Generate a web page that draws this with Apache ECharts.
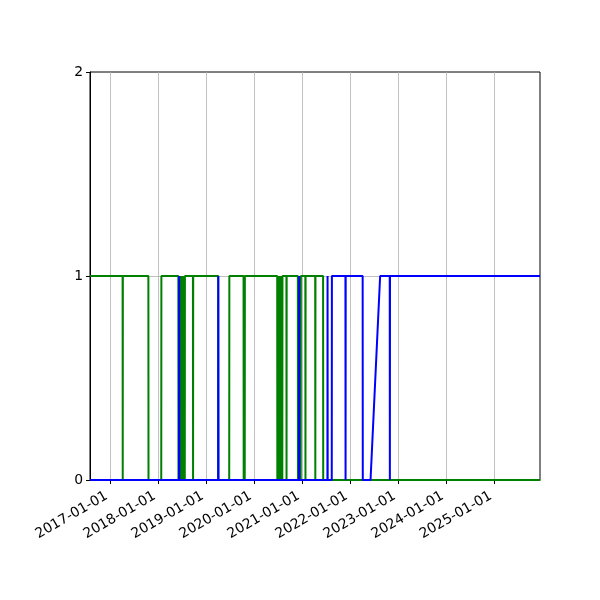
<!DOCTYPE html>
<html>
<head>
<meta charset="utf-8">
<script src="https://cdn.jsdelivr.net/npm/echarts@6/dist/echarts.min.js"></script>
<style>html,body{margin:0;padding:0;background:#fff}#c{width:600px;height:600px}</style>
</head>
<body>
<div id="c"></div>
<script>
// Axis range
var xMin = '2016-08-01';
var xMax = '2025-12-15';
var yTicks = [0, 1, 2];

// Green series: [date, value] points (state changes / short dips)
var greenSeries = [
  ['2016-08-01', 1],
  ['2017-04-06', 1], ['2017-04-07', 0], ['2017-04-08', 1],
  ['2017-10-19', 1], ['2017-10-20', 0],
  ['2018-01-25', 0], ['2018-01-26', 1],
  ['2018-06-04', 1], ['2018-06-05', 0], ['2018-06-06', 1],
  ['2018-06-10', 1], ['2018-06-11', 0], ['2018-06-12', 1],
  ['2018-06-16', 1], ['2018-06-17', 0], ['2018-06-18', 1],
  ['2018-06-22', 1], ['2018-06-23', 0], ['2018-06-24', 1],
  ['2018-06-28', 1], ['2018-06-29', 0], ['2018-06-30', 1],
  ['2018-07-04', 1], ['2018-07-05', 0], ['2018-07-06', 1],
  ['2018-07-10', 1], ['2018-07-11', 0], ['2018-07-12', 1],
  ['2018-07-16', 1], ['2018-07-17', 0], ['2018-07-18', 1],
  ['2018-07-22', 1], ['2018-07-23', 0], ['2018-07-24', 1],
  ['2018-09-23', 1], ['2018-09-24', 0], ['2018-09-25', 1],
  ['2019-04-03', 1], ['2019-04-04', 0],
  ['2019-06-26', 0], ['2019-06-27', 1],
  ['2019-10-13', 1], ['2019-10-14', 0], ['2019-10-15', 1],
  ['2019-10-21', 1], ['2019-10-22', 0], ['2019-10-23', 1],
  ['2020-06-25', 1], ['2020-06-26', 0], ['2020-06-27', 1],
  ['2020-07-02', 1], ['2020-07-03', 0], ['2020-07-04', 1],
  ['2020-07-09', 1], ['2020-07-10', 0], ['2020-07-11', 1],
  ['2020-07-16', 1], ['2020-07-17', 0], ['2020-07-18', 1],
  ['2020-07-24', 1], ['2020-07-25', 0], ['2020-07-26', 1],
  ['2020-08-02', 1], ['2020-08-03', 0], ['2020-08-04', 1],
  ['2020-09-03', 1], ['2020-09-04', 0], ['2020-09-05', 1],
  ['2020-11-29', 1], ['2020-11-30', 0], ['2020-12-01', 1],
  ['2020-12-14', 1], ['2020-12-15', 0], ['2020-12-16', 1],
  ['2020-12-20', 1], ['2020-12-21', 0], ['2020-12-22', 1],
  ['2021-01-25', 1], ['2021-01-26', 0], ['2021-01-27', 1],
  ['2021-04-10', 1], ['2021-04-11', 0], ['2021-04-12', 1],
  ['2021-06-09', 1], ['2021-06-10', 0],
  ['2025-12-15', 0]
];

// Blue series: [date, value] points
var blueSeries = [
  ['2016-08-01', 0],
  ['2018-06-09', 0], ['2018-06-10', 1], ['2018-06-11', 0],
  ['2019-04-03', 0], ['2019-04-04', 1], ['2019-04-05', 0],
  ['2020-12-08', 0], ['2020-12-09', 1], ['2020-12-10', 0],
  ['2021-07-12', 0], ['2021-07-13', 1], ['2021-07-14', 0],
  ['2021-08-14', 0], ['2021-08-15', 1],
  ['2021-11-26', 1], ['2021-11-27', 0], ['2021-11-28', 1],
  ['2022-04-06', 1], ['2022-04-07', 0],
  ['2022-06-05', 0],
  ['2022-08-17', 1],
  ['2022-10-29', 1], ['2022-10-30', 0], ['2022-10-31', 1],
  ['2025-12-15', 1]
];

var FONT = 'DejaVu Sans';
var chart = echarts.init(document.getElementById('c'), null, {renderer: 'canvas'});
var DAY = 24 * 3600 * 1000;
chart.setOption({
  animation: false,
  backgroundColor: '#fff',
  grid: {left: 90, right: 60, top: 72, bottom: 120, show: true, borderColor: '#000', borderWidth: 1, backgroundColor: 'transparent'},
  xAxis: {
    type: 'time', min: xMin, max: xMax,
    minInterval: 365 * DAY, maxInterval: 367 * DAY, splitNumber: 9,
    axisLine: {show: true, lineStyle: {color: '#000', width: 1}},
    axisTick: {show: true, length: 4, lineStyle: {color: '#000', width: 1}},
    axisLabel: {
      rotate: 30, color: '#000', fontSize: 13.9, fontFamily: FONT, margin: 13,
      padding: [0, 4, 0, 0],
      formatter: '{yyyy}-{MM}-{dd}', showMinLabel: false, showMaxLabel: false,
      rich: {primary: {fontWeight: 'normal'}}
    },
    splitLine: {show: true, showMinLine: false, showMaxLine: false, lineStyle: {color: '#b0b0b0', width: 0.8}}
  },
  yAxis: {
    type: 'value', min: yTicks[0], max: yTicks[yTicks.length - 1], interval: 1,
    axisLine: {show: true, lineStyle: {color: '#000', width: 1}},
    axisTick: {show: true, length: 4, lineStyle: {color: '#000', width: 1}},
    axisLabel: {color: '#000', fontSize: 13.9, fontFamily: FONT, margin: 7},
    splitLine: {show: true, showMinLine: false, showMaxLine: false, lineStyle: {color: '#b0b0b0', width: 0.8}}
  },
  series: [
    {type: 'line', data: greenSeries, showSymbol: false, symbol: 'none', lineStyle: {color: '#008000', width: 2}, itemStyle: {color: '#008000'}, z: 2},
    {type: 'line', data: blueSeries, showSymbol: false, symbol: 'none', lineStyle: {color: '#0000ff', width: 2}, itemStyle: {color: '#0000ff'}, z: 3}
  ]
});
</script>
</body>
</html>
